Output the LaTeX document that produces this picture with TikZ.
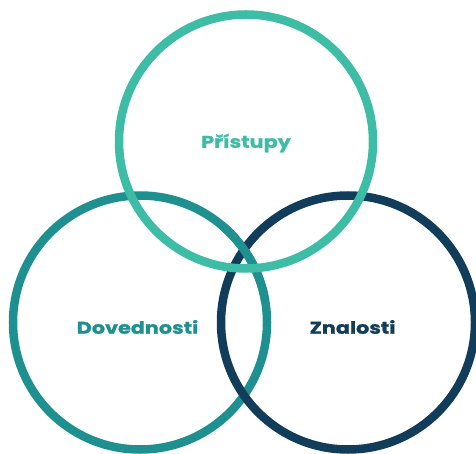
\documentclass[tikz,border=0pt]{standalone}
\usepackage{fontspec}
\setmainfont{Poppins}[FakeStretch=1.22,BoldFeatures={FakeBold=1.2}]
\definecolor{cLight}{HTML}{3DBDA5}
\definecolor{cTeal}{HTML}{1E9090}
\definecolor{cDark}{HTML}{123D5A}
\begin{document}
\begin{tikzpicture}[x=1pt,y=-1pt,
  ring/.style={line width=8.5pt},
  lbl/.style={font=\fontsize{17}{20}\selectfont\bfseries, anchor=center}]
\useasboundingbox (0,0) rectangle (476,454);
\coordinate (cT) at (246,141.5);
\coordinate (cL) at (140,322.5);
\coordinate (cR) at (348,322.5);
\draw[ring,cTeal] (cL) circle[radius=127];
\draw[ring,cDark] (cR) circle[radius=127];
% interlock: teal over dark at lower crossing
\draw[ring,cTeal] ([shift={(-10:127)}]cL) arc[start angle=-10,end angle=-50,radius=127];
\draw[ring,cLight] (cT) circle[radius=127];
\node[lbl,text=cLight] (p) at (246,143) {Přístupy};
\node[lbl,text=cTeal] (d) at (137.5,327) {Dovednosti};
\node[lbl,text=cDark] (z) at (352.5,327) {Znalosti};
\end{tikzpicture}
\end{document}
